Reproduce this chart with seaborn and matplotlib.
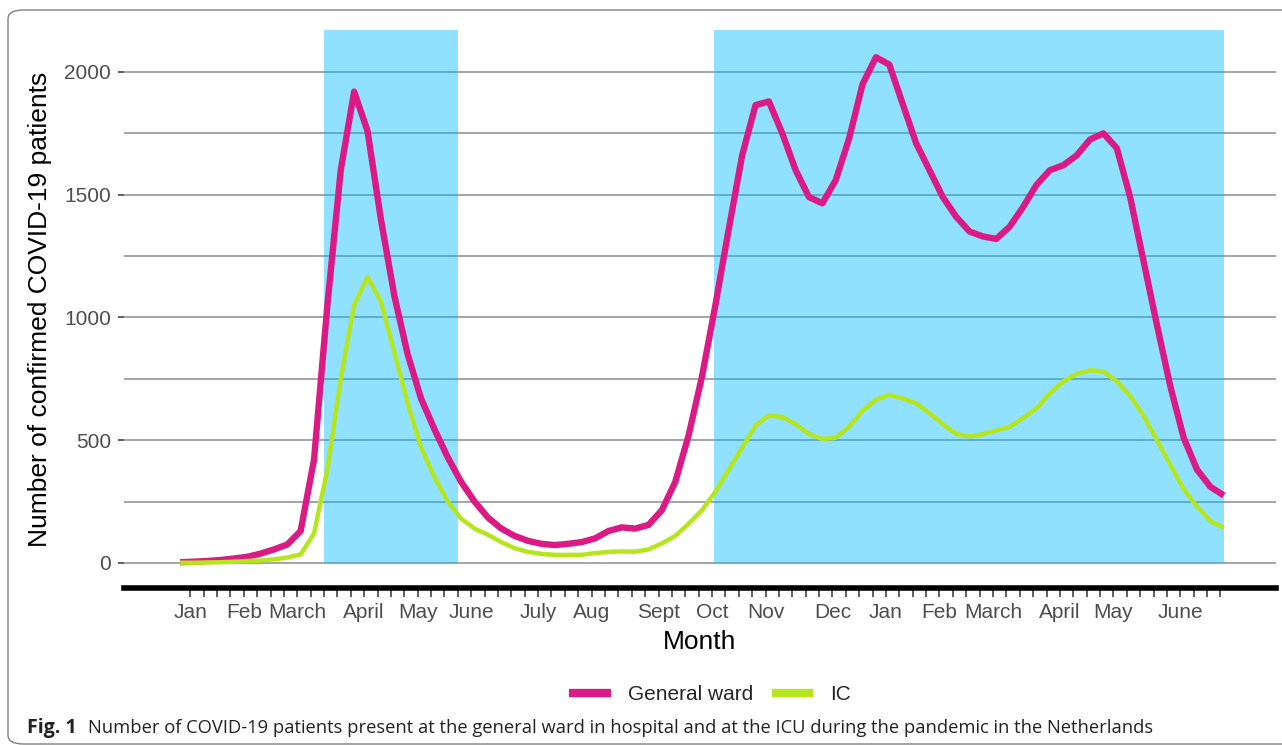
"""COVID-19 patients at general ward and ICU, Netherlands (weekly)."""

import matplotlib

matplotlib.use("Agg")
import matplotlib.pyplot as plt
import numpy as np
import pandas as pd
import seaborn as sns
from matplotlib.lines import Line2D
from matplotlib.patches import FancyBboxPatch

# weekly counts, Jan 2020 - June 2021
general_ward = [
    3, 5, 8, 12, 18, 25, 38, 55, 75, 130,
    420, 1050, 1600, 1920, 1760, 1400, 1090, 850, 670, 545,
    430, 330, 250, 185, 140, 110, 90, 78, 73, 78,
    85, 100, 130, 145, 140, 155, 215, 330, 520, 760,
    1050, 1360, 1660, 1865, 1880, 1750, 1600, 1490, 1465, 1560,
    1730, 1950, 2060, 2030, 1870, 1710, 1600, 1490, 1410, 1350,
    1330, 1320, 1370, 1450, 1540, 1600, 1620, 1660, 1725, 1750,
    1690, 1490, 1230, 970, 720, 510, 380, 310, 275,
]
ic = [
    1, 1, 2, 3, 5, 8, 10, 15, 22, 35,
    120, 380, 750, 1050, 1165, 1065, 860, 650, 470, 350,
    250, 180, 140, 115, 85, 60, 45, 37, 33, 33,
    33, 40, 45, 47, 46, 55, 80, 110, 160, 215,
    290, 380, 470, 560, 600, 595, 565, 525, 505, 510,
    555, 620, 665, 685, 670, 650, 610, 565, 525, 515,
    525, 540, 555, 590, 630, 690, 740, 770, 785, 780,
    740, 680, 600, 500, 400, 300, 230, 170, 143,
]
series_names = ["General ward", "IC"]
series_colors = ["#DC1A85", "#B5E61D"]

month_labels = [
    "Jan", "Feb", "March", "April", "May", "June", "July", "Aug", "Sept",
    "Oct", "Nov", "Dec", "Jan", "Feb", "March", "April", "May", "June",
]
month_tick_idx = [0, 4, 8, 13, 17, 21, 26, 30, 35, 39, 43, 48, 52, 56, 60, 65, 69, 74]
n_ticks = 78

# shaded pandemic waves (in weeks)
waves = [(10.75, 20.8), (39.9, 78)]
wave_top = 2171

caption_bold = "Fig. 1"
caption = ("Number of COVID-19 patients present at the general ward in hospital "
           "and at the ICU during the pandemic in the Netherlands")

weeks = np.arange(len(general_ward))
df = pd.DataFrame(
    {
        "week": np.concatenate([weeks, weeks]),
        "patients": general_ward + ic,
        "ward": [series_names[0]] * len(general_ward) + [series_names[1]] * len(ic),
    }
)

sns.set_theme(style="white")
plt.rcParams["font.family"] = ["Liberation Sans", "DejaVu Sans"]

fig = plt.figure(figsize=(12.82, 7.45), dpi=100)
ax = fig.add_axes([124 / 1282, 1 - 588 / 745, 1152 / 1282, 558 / 745])

for start, end in waves:
    ax.fill_betweenx([0, wave_top], start, end, color="#00BBFF", alpha=0.44,
                     lw=0, zorder=1.5)

sns.lineplot(
    data=df, x="week", y="patients", hue="ward",
    palette=dict(zip(series_names, series_colors)),
    ax=ax, legend=False, zorder=3,
)
for line, lw in zip(ax.get_lines(), [4.6, 3.2]):
    line.set_linewidth(lw)
    line.set_solid_capstyle("butt")
    line.set_solid_joinstyle("round")

ax.set_xlim(-4.2, 81.9)
ax.set_ylim(-102, 2171)

ticks = np.arange(n_ticks) + 0.75
tick_labels = [""] * n_ticks
for idx, lab in zip(month_tick_idx, month_labels):
    tick_labels[idx] = lab
ax.set_xticks(ticks)
ax.set_xticklabels(tick_labels)
ax.set_yticks([0, 500, 1000, 1500, 2000])
ax.set_yticks([250, 750, 1250, 1750], minor=True)
ax.tick_params(axis="x", which="major", length=6.5, width=1.1, color="#333333",
               labelsize=15, labelcolor="#4D4D4D", pad=4, bottom=True)
ax.tick_params(axis="y", which="major", length=4.5, width=1.1, color="#333333",
               labelsize=15, labelcolor="#4D4D4D", pad=5, left=True)
ax.tick_params(axis="y", which="minor", length=0)

ax.grid(axis="y", which="both", color="#8C8C8C", linewidth=1.1, zorder=1)
ax.set_axisbelow(True)

for side in ["top", "right", "left"]:
    ax.spines[side].set_visible(False)
ax.spines["bottom"].set_linewidth(4)
ax.spines["bottom"].set_color("black")

ax.set_xlabel("Month", fontsize=19, color="black")
ax.set_ylabel("Number of confirmed COVID-19 patients", fontsize=19, color="black")
ax.xaxis.set_label_coords(0.5, -0.097)
ax.xaxis.label.set_va("center")
ax.yaxis.set_label_coords(-0.073, 0.5)
ax.yaxis.label.set_va("center")

handles = [Line2D([0], [0], color=c, lw=6, solid_capstyle="butt") for c in series_colors]
fig.legend(
    handles, series_names, loc="center", bbox_to_anchor=(710 / 1282, 1 - 695 / 745),
    ncol=2, frameon=False, fontsize=15, handlelength=2.0, handletextpad=0.8,
    columnspacing=0.9,
)

# caption, sized to span the same width as in the article
cap_font = ["Liberation Sans Narrow", "Open Sans", "DejaVu Sans"]
t_bold = fig.text(27 / 1282, 1 - 728 / 745, caption_bold, fontsize=12, fontweight="bold",
                  family=cap_font, va="center", ha="left", color="#222222")
t_cap = fig.text(88 / 1282, 1 - 728 / 745, caption, fontsize=12,
                 family=cap_font, va="center", ha="left", color="#222222")
renderer = fig.canvas.get_renderer()
w = t_cap.get_window_extent(renderer).width
t_cap.set_fontsize(12 * 1059 / w)
w = t_bold.get_window_extent(renderer).width
t_bold.set_fontsize(12 * 50 / w)

# rounded frame around the figure panel
frame = FancyBboxPatch(
    (8 / 1282, 1 - 744 / 745), 1300 / 1282, 734 / 745,
    boxstyle="round,pad=0,rounding_size=0.012", transform=fig.transFigure,
    fill=False, edgecolor="#7F7F7F", linewidth=1.0, clip_on=False,
)
fig.patches.append(frame)

fig.savefig("out.png", dpi=100, facecolor="white")
